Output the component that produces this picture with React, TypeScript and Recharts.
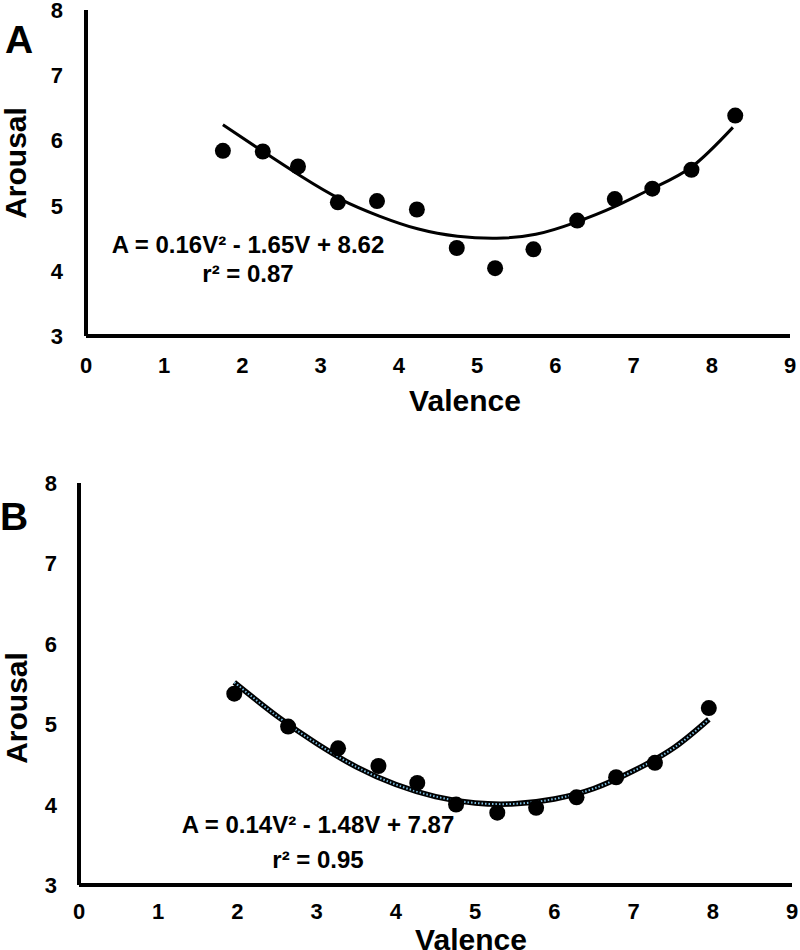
import { ComposedChart, Scatter, Line, XAxis, YAxis } from "recharts"

const FONT = "'Liberation Sans', Arial, sans-serif"

// panel A — mean ratings
const valenceA = [1.75, 2.26, 2.71, 3.22, 3.72, 4.23, 4.74, 5.23, 5.72, 6.28, 6.76, 7.24, 7.74, 8.3]
const arousalA = [5.84, 5.83, 5.6, 5.05, 5.07, 4.94, 4.35, 4.04, 4.33, 4.77, 5.1, 5.26, 5.55, 6.38]
// panel A — fitted curve
const fitValenceA = [1.75, 2.25, 2.75, 3.25, 3.75, 4.25, 4.75, 5.25, 5.75, 6.25, 6.75, 7.25, 7.75, 8.27]
const fitArousalA = [6.24, 5.84, 5.45, 5.1, 4.84, 4.64, 4.53, 4.5, 4.56, 4.74, 4.98, 5.27, 5.6, 6.2]

// panel B
const valenceB = [1.96, 2.64, 3.27, 3.78, 4.27, 4.76, 5.28, 5.77, 6.28, 6.78, 7.27, 7.95]
const arousalB = [5.38, 4.97, 4.7, 4.48, 4.27, 4.0, 3.9, 3.96, 4.09, 4.34, 4.52, 5.2]
const fitValenceB = [1.96, 2.5, 3, 3.5, 4, 4.5, 5, 5.5, 6, 6.5, 7, 7.5, 7.95]
const fitArousalB = [5.52, 5.1, 4.76, 4.47, 4.25, 4.1, 4.02, 4.01, 4.07, 4.2, 4.42, 4.7, 5.06]

const xTicks = [0, 1, 2, 3, 4, 5, 6, 7, 8, 9]
const yTicks = [3, 4, 5, 6, 7, 8]

const zip = (xs: number[], ys: number[]) => xs.map((x, i) => ({ x, y: ys[i] }))

const Dot = (p: any) => <circle cx={p.cx} cy={p.cy} r={8} fill="#000" />

const tickStyle = { fontFamily: FONT, fontSize: 22, fontWeight: 700, fill: "#000" }

const makeXTick = (offset: number) => (p: any) => (
  <text x={p.x} y={p.y + offset} textAnchor="middle" style={tickStyle}>{p.payload.value}</text>
)
const makeYTick = (gap: number) => (p: any) => (
  <text x={p.x - gap} y={p.y + 8} textAnchor="end" style={tickStyle}>{p.payload.value}</text>
)

interface PanelProps {
  top: number
  height: number
  margin: { top: number; right: number; bottom: number; left: number }
  xAxisHeight: number
  yAxisWidth: number
  xTickOffset: number
  yTickGap: number
  points: { x: number; y: number }[]
  fit: { x: number; y: number }[]
  dotted?: boolean
}

function Panel({ top, height, margin, xAxisHeight, yAxisWidth, xTickOffset, yTickGap, points, fit, dotted }: PanelProps) {
  return (
    <div style={{ position: "absolute", left: 0, top }}>
      <ComposedChart width={800} height={height} margin={margin}>
        <XAxis
          type="number"
          dataKey="x"
          domain={[0, 9]}
          ticks={xTicks}
          interval={0}
          height={xAxisHeight}
          allowDataOverflow
          axisLine={{ stroke: "#000", strokeWidth: 4 }}
          tickLine={false}
          tickSize={0}
          tickMargin={0}
          tick={makeXTick(xTickOffset)}
        />
        <YAxis
          type="number"
          dataKey="y"
          domain={[3, 8]}
          ticks={yTicks}
          interval={0}
          width={yAxisWidth}
          axisLine={{ stroke: "#000", strokeWidth: 4 }}
          tickLine={false}
          tickSize={0}
          tickMargin={0}
          tick={makeYTick(yTickGap)}
        />
        <Scatter data={points} dataKey="y" shape={Dot} isAnimationActive={false} />
        <Line data={fit} dataKey="y" type="natural" stroke="#000" strokeWidth={dotted ? 5.5 : 3} dot={false} isAnimationActive={false} />
        {dotted && (
          <Line data={fit} dataKey="y" type="natural" stroke="#7cbde0" strokeWidth={2} strokeDasharray="1.5 2" dot={false} isAnimationActive={false} />
        )}
      </ComposedChart>
    </div>
  )
}

const textBase: React.CSSProperties = { position: "absolute", fontFamily: FONT, fontWeight: 700, color: "#000", whiteSpace: "nowrap", lineHeight: 1 }

export default function App() {
  return (
    <div style={{ position: "absolute", left: 0, top: 0, width: 800, height: 950, background: "#fff", overflow: "hidden" }}>
      <Panel
        top={0}
        height={400}
        margin={{ top: 10, right: 10, bottom: 0, left: 0 }}
        xAxisHeight={64}
        yAxisWidth={86}
        xTickOffset={37}
        yTickGap={23}
        points={zip(valenceA, arousalA)}
        fit={zip(fitValenceA, fitArousalA)}
      />
      <Panel
        top={470}
        height={480}
        margin={{ top: 13, right: 8, bottom: 0, left: 0 }}
        xAxisHeight={65}
        yAxisWidth={79}
        xTickOffset={34}
        yTickGap={22}
        points={zip(valenceB, arousalB)}
        fit={zip(fitValenceB, fitArousalB)}
        dotted
      />

      {/* panel letters */}
      <div style={{ ...textBase, left: 19, top: 39, fontSize: 39, transform: "translate(-50%, -50%)" }}>A</div>
      <div style={{ ...textBase, left: 14, top: 516, fontSize: 39, transform: "translate(-50%, -50%)" }}>B</div>

      {/* axis titles */}
      <div style={{ ...textBase, left: 16, top: 163, fontSize: 30, lineHeight: 0.8, transform: "translate(-50%, -50%) rotate(-90deg)" }}>Arousal</div>
      <div style={{ ...textBase, left: 17, top: 708, fontSize: 30, lineHeight: 0.8, transform: "translate(-50%, -50%) rotate(-90deg)" }}>Arousal</div>
      <div style={{ ...textBase, left: 465, top: 401, fontSize: 30, transform: "translate(-50%, -50%)" }}>Valence</div>
      <div style={{ ...textBase, left: 471, top: 940, fontSize: 30, lineHeight: 0.75, transform: "translate(-50%, -50%)" }}>Valence</div>

      {/* fit equations */}
      <div style={{ ...textBase, left: 248, top: 245, fontSize: 24, transform: "translate(-50%, -50%)" }}>
        A = 0.16V² - 1.65V + 8.62
      </div>
      <div style={{ ...textBase, left: 248, top: 274, fontSize: 24, transform: "translate(-50%, -50%)" }}>r² = 0.87</div>
      <div style={{ ...textBase, left: 318, top: 825, fontSize: 24, transform: "translate(-50%, -50%)" }}>
        A = 0.14V² - 1.48V + 7.87
      </div>
      <div style={{ ...textBase, left: 318, top: 860, fontSize: 24, transform: "translate(-50%, -50%)" }}>r² = 0.95</div>
    </div>
  )
}
